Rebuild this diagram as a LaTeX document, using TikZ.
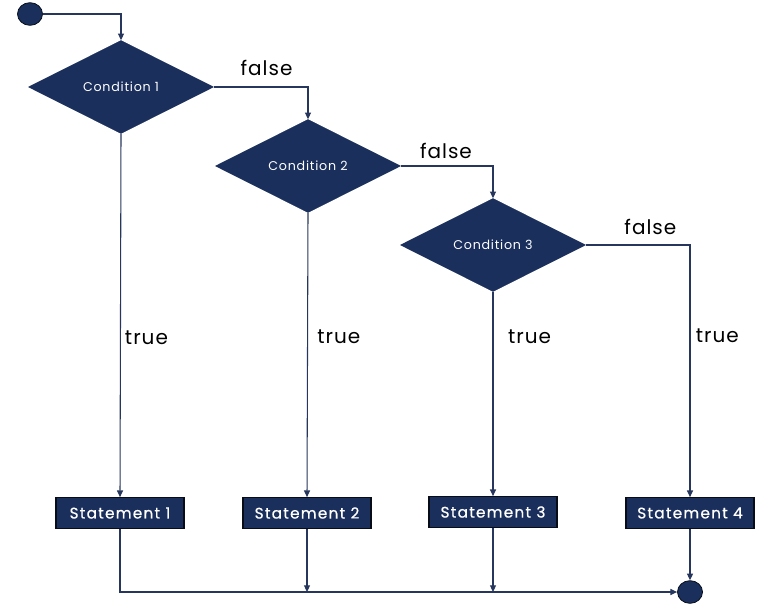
\documentclass[tikz,border=0pt]{standalone}
\usepackage{fontspec}
\setmainfont{Poppins}
\newfontfamily\condfont[LetterSpace=6]{Poppins}
\newfontfamily\stmtfont[LetterSpace=8, FakeBold=0.6]{Poppins}
\newfontfamily\lblfont[LetterSpace=5]{Poppins}
\usetikzlibrary{arrows.meta, shapes, positioning}
\definecolor{navy}{RGB}{27,47,92}
\definecolor{wirecol}{RGB}{38,54,92}

\begin{document}
\begin{tikzpicture}[x=0.75pt,y=-0.75pt,
    cond/.style={diamond, fill=navy, draw=navy, minimum width=138.75pt, minimum height=69.75pt, inner sep=0pt, text=white, font=\condfont\fontsize{9.5}{11}\selectfont},
    stmt/.style={rectangle, fill=navy, draw=black!75!navy, line width=0.8pt, minimum width=96pt, minimum height=23pt, inner sep=0pt, text=white, font=\stmtfont\fontsize{11.5}{13}\selectfont},
    term/.style={ellipse, fill=navy, draw=black!70!navy, line width=0.6pt, minimum width=18.75pt, minimum height=17pt, inner sep=0pt},
    lbl/.style={font=\lblfont\fontsize{15}{17}\selectfont, text=black, inner sep=1pt},
    wire/.style={draw=wirecol, line width=0.8pt},
    >={Triangle[length=5pt,width=4.5pt]}]
    \useasboundingbox (0,0) rectangle (759,609);
    \node[term] (start) at (30,14) {};
    \node[cond] (c1) at (121,87) {Condition 1};
    \node[cond] (c2) at (308,166) {Condition 2};
    \node[cond] (c3) at (493,245) {Condition 3};
    \node[stmt] (s1) at (120,513) {Statement 1};
    \node[stmt] (s2) at (307,513) {Statement 2};
    \node[stmt] (s3) at (493,512) {Statement 3};
    \node[stmt] (s4) at (690,513) {Statement 4};
    \node[term] (stop) at (690,592) {};
    \draw[wire,->] (start.east) -| (c1.north);
    \draw[wire,->] (c1.east) -| node[lbl,pos=0.28,above=7pt] (f1) {false} (c2.north);
    \draw[wire,->] (c2.east) -| node[lbl,pos=0.245,above=4pt] (f2) {false} (c3.north);
    \draw[wire,->] (c3.east) -| node[lbl,pos=0.31,above=6pt] (f3) {false}
        node[lbl,pos=0.68,right=3pt] (t4) {true} (s4.north);
    \draw[wire,->] (c1.south) -- node[lbl,pos=0.56,right=2pt] (t1) {true} (s1.north);
    \draw[wire,->] (c2.south) -- node[lbl,pos=0.435,right=6pt] (t2) {true} (s2.north);
    \draw[wire,->] (c3.south) -- node[lbl,pos=0.22,right=10pt] (t3) {true} (s3.north);
    \draw[wire,->] (s1.south) |- (stop.west);
    \draw[wire,->] (s2.south) -- (s2.south |- stop.west);
    \draw[wire,->] (s3.south) -- (s3.south |- stop.west);
    \draw[wire,->] (s4.south) -- (stop.north);
\end{tikzpicture}
\end{document}
